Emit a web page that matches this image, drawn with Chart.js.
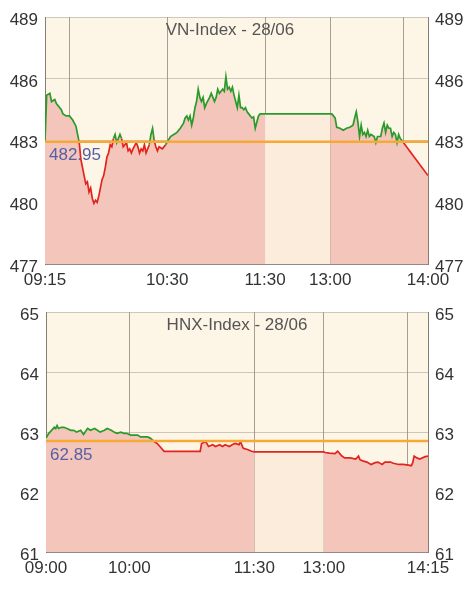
<!DOCTYPE html>
<html>
<head>
<meta charset="utf-8">
<script src="https://cdn.jsdelivr.net/npm/chart.js@4.4.0/dist/chart.umd.min.js"></script>
<style>
  body { margin: 0; background: #fff; }
  canvas { display: block; }
</style>
</head>
<body>
<canvas id="vnChart" width="474" height="295"></canvas>
<canvas id="hnxChart" width="474" height="296"></canvas>
<script>
// VN-Index, 28/06
const vnTimes = ['09:15','09:16','09:18','09:19','09:21','09:22','09:25','09:26','09:28','09:30',
  '09:32','09:34','09:35','09:36','09:37','09:38','09:39','09:40','09:41','09:42',
  '09:43','09:44','09:45','09:46','09:47','09:48','09:49','09:50','09:51','09:52',
  '09:53','09:54','09:55','09:56','09:57','09:58','09:59','10:00','10:01','10:02',
  '10:03','10:04','10:05','10:06','10:07','10:08','10:09','10:11','10:12','10:13',
  '10:14','10:15','10:16','10:17','10:19','10:20','10:21','10:22','10:23','10:24',
  '10:25','10:27','10:29','10:32','10:34','10:36','10:38','10:40','10:41','10:42',
  '10:43','10:44','10:45','10:46','10:47','10:48','10:49','10:50','10:51','10:52',
  '10:53','10:54','10:56','10:57','10:58','10:59','11:00','11:01','11:02','11:03',
  '11:04','11:05','11:06','11:07','11:08','11:09','11:10','11:11','11:12','11:13',
  '11:14','11:15','11:16','11:17','11:18','11:19','11:20','11:21','11:22','11:23',
  '11:24','11:25','11:26','11:27','11:28','11:30',
  '13:00','13:01','13:03','13:04','13:06','13:08','13:10','13:12','13:14','13:15',
  '13:16','13:17','13:18','13:19','13:20','13:21','13:22','13:23','13:24','13:25',
  '13:27','13:28','13:29','13:31','13:32','13:33','13:34','13:35','13:36','13:37',
  '13:38','13:39','13:40','13:41','13:42','13:43','13:45','14:00'];
const vnValues = [482.95,485.2,485.3,484.9,485.0,484.8,484.5,484.3,484.2,484.2,
  484.0,483.7,483.3,482.9,482.1,481.7,481.3,480.9,481.0,480.5,
  480.7,480.2,479.95,480.1,480.0,480.3,480.7,481.1,481.3,481.7,
  482.2,482.4,482.8,482.7,483.1,483.3,482.9,483.1,483.3,483.1,
  482.7,482.8,482.9,482.5,482.6,482.4,482.6,482.9,482.7,482.4,
  482.6,482.5,482.8,482.4,482.8,483.3,483.6,483.0,482.7,482.5,
  482.7,482.6,482.8,483.2,483.3,483.4,483.6,483.85,484.1,484.2,
  484.0,484.2,483.75,484.1,484.6,484.9,485.5,485.1,484.9,485.1,
  484.6,484.8,485.1,485.3,485.1,484.9,485.1,485.5,485.3,485.4,
  485.5,485.4,486.1,485.5,485.6,485.4,485.6,485.2,484.9,484.6,
  485.2,484.6,484.6,484.5,484.6,484.4,484.3,484.2,484.1,484.15,
  483.6,483.9,484.2,484.3,484.3,484.3,
  484.3,484.3,484.1,483.65,483.6,483.5,483.6,483.65,483.75,484.1,
  484.4,483.9,483.2,483.75,483.3,483.4,483.2,483.5,483.2,483.3,
  483.2,482.9,483.2,483.2,483.6,483.85,483.4,483.75,483.6,483.6,
  483.2,483.4,483.3,482.9,483.3,483.1,482.9,481.3];
const vnRef = 482.95;
const vnTicks = ['09:15','09:30','10:30','11:30','13:00','13:45','14:00'];
const vnTickLabels = ['09:15','','10:30','11:30','13:00','','14:00'];

// HNX-Index, 28/06
const hnxTimes = ['09:00','09:02','09:04','09:06','09:07','09:08','09:09','09:11','09:13','09:15',
  '09:18','09:20','09:22','09:25','09:27','09:29','09:30','09:32','09:35','09:37',
  '09:39','09:42','09:44','09:47','09:49','09:51','09:54','09:56','09:58','10:01',
  '10:03','10:06','10:08','10:10','10:13','10:15','10:18','10:20','10:22','10:25',
  '10:51','10:52','10:55','10:57','11:00','11:02','11:05','11:07','11:09','11:12',
  '11:14','11:16','11:19','11:20','11:22','11:25','11:28','11:30',
  '13:00','13:01','13:04','13:08','13:10','13:13','13:15','13:19','13:23','13:25',
  '13:26','13:28','13:31','13:34','13:37','13:39','13:42','13:44','13:48','13:50',
  '13:54','13:57','14:01','14:03','14:04','14:05','14:07','14:09','14:13','14:15'];
const hnxValues = [62.9,62.98,63.03,63.08,63.06,63.11,63.06,63.08,63.08,63.06,
  63.03,63.03,63.0,63.03,62.96,63.03,63.06,63.03,63.06,63.03,
  63.0,63.03,63.06,63.03,63.0,62.98,63.0,62.98,62.98,62.95,
  62.95,62.95,62.92,62.92,62.92,62.9,62.84,62.81,62.76,62.68,
  62.68,62.81,62.84,62.76,62.79,62.76,62.79,62.76,62.79,62.76,
  62.79,62.81,62.79,62.84,62.73,62.71,62.68,62.67,
  62.67,62.66,62.65,62.64,62.68,62.6,62.57,62.57,62.55,62.6,
  62.54,62.52,62.5,62.46,62.49,62.5,62.46,62.5,62.5,62.48,
  62.46,62.46,62.45,62.44,62.49,62.6,62.57,62.55,62.59,62.6];
const hnxRef = 62.85;
const hnxTicks = ['09:00','10:00','11:30','13:00','14:00','14:15'];
const hnxTickLabels = ['09:00','10:00','11:30','13:00','','14:15'];

const UP = '#2a9a2a';
const DOWN = '#e2231e';
const FILL = '#f3c5bb';
const LUNCH_FILL = '#fcecdc';
const FONT = '"Liberation Sans", Arial, sans-serif';

function toMin(hhmm) {
  const p = hhmm.split(':');
  return +p[0] * 60 + +p[1];
}

// session axis: lunch break (11:30 - 13:00) is squeezed to lunchLen
function toPos(hhmm, open, lunchLen) {
  const m = toMin(hhmm), o = toMin(open);
  if (m <= 690) return m - o;
  if (m >= 780) return 690 - o + lunchLen + (m - 780);
  return 690 - o + (m - 690) * lunchLen / 90;
}

const sessionPlugin = {
  id: 'session',
  beforeDraw(chart) {
    const {ctx, chartArea: a} = chart;
    ctx.save();
    ctx.fillStyle = '#fdf6e7';
    ctx.fillRect(a.left, a.top, a.right - a.left, a.bottom - a.top);
    ctx.restore();
  },
  afterDraw(chart, args, opts) {
    const {ctx, chartArea: a} = chart;
    const y = chart.scales.y.getPixelForValue(opts.ref);
    ctx.save();
    ctx.strokeStyle = '#f6a934';
    ctx.lineWidth = 2.5;
    ctx.beginPath();
    ctx.moveTo(a.left, y);
    ctx.lineTo(a.right, y);
    ctx.stroke();
    ctx.font = '17px ' + FONT;
    ctx.fillStyle = '#5660a6';
    ctx.textBaseline = 'middle';
    ctx.textAlign = 'left';
    ctx.fillText(opts.refText, a.left + 4, y + 14);
    ctx.fillStyle = '#555';
    ctx.textAlign = 'center';
    ctx.fillText(opts.title, opts.titleX, a.top + 13);
    ctx.restore();
  }
};

function makeChart(id, o) {
  const open = o.ticks[0];
  const pts = o.times.map((t, i) => ({x: toPos(t, open, o.lunch), y: o.values[i]}));
  const tickPos = o.ticks.map(t => toPos(t, open, o.lunch));
  const lunchA = toPos('11:30', open, o.lunch);
  const lunchB = toPos('13:00', open, o.lunch);
  const yAxis = (pos, width) => ({
    position: pos,
    min: o.yMin,
    max: o.yMax,
    z: 1,
    afterFit: s => { s.width = width; },
    ticks: {stepSize: o.step, color: '#333', padding: 7, labelOffset: 3,
      font: {size: 17, family: FONT}},
    grid: {display: pos === 'left', color: 'rgba(150,140,130,0.45)', drawTicks: false},
    border: {color: 'rgba(120,110,100,0.7)'}
  });
  return new Chart(document.getElementById(id), {
    type: 'line',
    data: {
      datasets: [{
        // area under the price, lighter during the lunch break
        data: pts,
        order: 1,
        borderWidth: 0,
        borderColor: 'transparent',
        pointRadius: 0,
        tension: 0,
        fill: 'start',
        backgroundColor: FILL,
        segment: {
          backgroundColor: c => (c.p0.parsed.x >= lunchA && c.p1.parsed.x <= lunchB ? LUNCH_FILL : FILL)
        }
      }, {
        // price line, green above reference and red below
        data: pts,
        order: 0,
        borderWidth: 1.7,
        borderColor: UP,
        pointRadius: 0,
        tension: 0,
        fill: false,
        segment: {
          borderColor: c => ((c.p0.parsed.y + c.p1.parsed.y) / 2 >= o.ref ? UP : DOWN)
        }
      }]
    },
    options: {
      responsive: false,
      animation: false,
      layout: {padding: {top: o.padTop, left: 0, right: 0, bottom: 0}},
      plugins: {
        legend: {display: false},
        tooltip: {enabled: false},
        session: {ref: o.ref, refText: String(o.ref), title: o.title, titleX: o.titleX}
      },
      scales: {
        x: {
          type: 'linear',
          min: tickPos[0],
          max: tickPos[tickPos.length - 1],
          z: 1,
          afterFit: s => { s.height = o.xHeight; },
          afterBuildTicks: s => { s.ticks = tickPos.map(v => ({value: v})); },
          ticks: {
            autoSkip: false, maxRotation: 0, padding: 6, color: '#333',
            font: {size: 17, family: FONT},
            callback: (v, i) => o.labels[i]
          },
          grid: {color: 'rgba(110,100,90,0.6)', drawTicks: false},
          border: {color: 'rgba(120,110,100,0.7)'}
        },
        y: yAxis('left', o.leftW),
        y2: yAxis('right', 46)
      }
    },
    plugins: [sessionPlugin]
  });
}

makeChart('vnChart', {
  times: vnTimes, values: vnValues, ref: vnRef, ticks: vnTicks, labels: vnTickLabels,
  lunch: 40, yMin: 477, yMax: 489, step: 3, padTop: 17, xHeight: 31, leftW: 45,
  title: 'VN-Index - 28/06', titleX: 230
});
makeChart('hnxChart', {
  times: hnxTimes, values: hnxValues, ref: hnxRef, ticks: hnxTicks, labels: hnxTickLabels,
  lunch: 50, yMin: 61, yMax: 65, step: 1, padTop: 10, xHeight: 39, leftW: 46,
  title: 'HNX-Index - 28/06', titleX: 237
});
</script>
</body>
</html>
